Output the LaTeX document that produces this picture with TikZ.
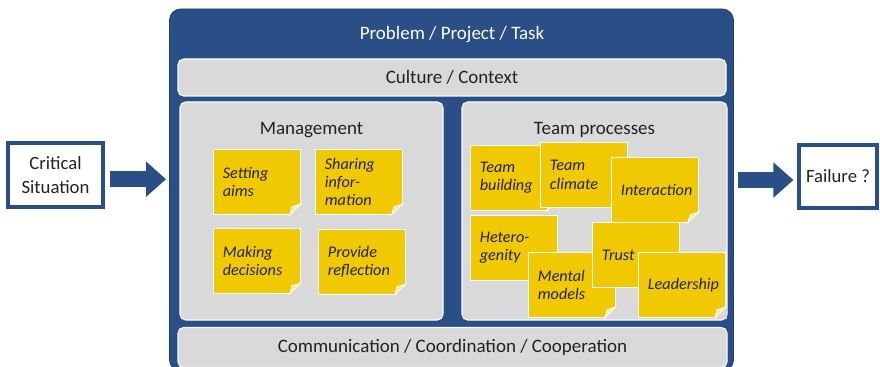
\documentclass[tikz,border=0pt]{standalone}
\usepackage{fontspec}
\setmainfont{Carlito}
\usetikzlibrary{arrows.meta}

\definecolor{frameblue}{HTML}{2A4F87}
\definecolor{panelgray}{HTML}{D9D9D9}
\definecolor{noteyellow}{HTML}{F1C902}
\definecolor{foldyellow}{HTML}{F9EC9E}
\definecolor{textgray}{HTML}{222222}

% one pixel of the drawing grid
\newcommand\pix{0.025cm}

% curled corner of a sticky note
\newcommand\notefold[1]{%
    \fill[panelgray] ([shift={(1,1)}]#1.south east)
        -- ([shift={(-11,1)}]#1.south east)
        -- ([shift={(1,-11)}]#1.south east) -- cycle;
    \filldraw[fill=foldyellow, draw=white, line width=0.6pt]
        ([shift={(-11,0)}]#1.south east)
        -- ([shift={(0,-11)}]#1.south east)
        -- ([shift={(-9,-8)}]#1.south east) -- cycle;}

\tikzset{
    panel/.style={fill=panelgray, draw=white!90!panelgray, line width=0.8pt,
        rounded corners=4pt, text=textgray, font=\fontsize{13.5}{15}\selectfont},
    sidebox/.style={fill=white, draw=frameblue, line width=2.2pt, text=textgray,
        align=center, font=\fontsize{13.3}{16.5}\selectfont},
    bigarrow/.style={draw=frameblue, line width={16*\pix},
        -{Triangle[width={34*\pix},length={20*\pix}]}},
    note/.style={anchor=north west, fill=noteyellow, draw=white, line width=0.6pt,
        minimum width={87*\pix}, minimum height={65*\pix}, text width={68*\pix},
        inner xsep={9*\pix}, align=left, text=textgray,
        font=\fontsize{11.5}{13}\selectfont\itshape},
}

\begin{document}
\begin{tikzpicture}[x=0.025cm, y=-0.025cm]
    \useasboundingbox (0,0) rectangle (880,367);

    % frame and bars
    \node[fill=frameblue, draw=frameblue!80!black, line width=0.6pt, rounded corners=8pt,
        minimum width={564*\pix}, minimum height={362*\pix}] (main) at (451.5,190) {};
    \node[text=white, font=\fontsize{13.5}{15}\selectfont] (task) at (452,35) {Problem / Project / Task};
    \node[panel, minimum width={548*\pix}, minimum height={37*\pix}] (culture) at (452,77.5) {Culture / Context};
    \node[panel, minimum width={549*\pix}, minimum height={40*\pix}] (comm) at (452.5,347.5) {Communication / Coordination / Cooperation};

    % the two panels
    \node[panel, minimum width={263*\pix}, minimum height={218*\pix}] (mgmt) at (311.5,211) {};
    \node[panel, minimum width={265*\pix}, minimum height={218*\pix}] (team) at (594.5,211) {};
    \node[text=textgray, font=\fontsize{13.5}{15}\selectfont] (mgmthead) at (311.5,130) {Management};
    \node[text=textgray, font=\fontsize{13.5}{15}\selectfont] (teamhead) at (594.5,130) {Team processes};

    % sticky notes, later ones lie on top
    \foreach \name/\pos/\txt in {aims/{(213,149)}/{Setting\\aims},
            share/{(315,149)}/{Sharing\\infor-\\mation},
            decide/{(213,228)}/{Making\\decisions},
            reflect/{(318,229)}/{Provide\\reflection},
            build/{(470,145)}/{Team\\building},
            climate/{(540,142)}/{Team\\climate},
            interact/{(611,157)}/{Interaction},
            hetero/{(470,215)}/{Hetero-\\genity},
            mental/{(528,252)}/{Mental\\models},
            trust/{(592,222)}/{Trust},
            lead/{(638,252)}/{Leadership}}{
        \node[note] (\name) at \pos {\txt};
        \notefold{\name}
    }

    % input and outcome
    \node[sidebox, minimum width={95*\pix}, minimum height={64*\pix}] (crit) at (55.5,175) {Critical\\Situation};
    \node[sidebox, minimum width={78*\pix}, minimum height={63*\pix}] (fail) at (838,176.5) {Failure ?};

    \coordinate (critout) at ([yshift=-3pt]crit.east);
    \coordinate (failin) at ([yshift=-2.5pt]fail.west);
    \draw[bigarrow, shorten <={5*\pix}, shorten >={3*\pix}] (critout) -- (critout -| main.west);
    \draw[bigarrow, shorten <={4*\pix}, shorten >={4*\pix}] (failin -| main.east) -- (failin);
\end{tikzpicture}
\end{document}
